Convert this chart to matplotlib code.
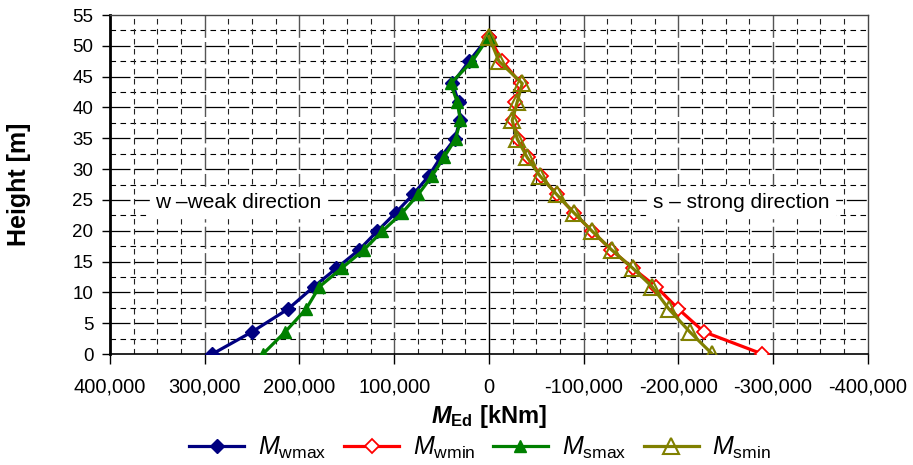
import matplotlib
matplotlib.use("Agg")
import matplotlib.pyplot as plt
from matplotlib.ticker import FuncFormatter, MultipleLocator

plt.rcParams['font.family'] = ['Liberation Sans', 'DejaVu Sans']
plt.rcParams['mathtext.fontset'] = 'custom'
plt.rcParams['mathtext.rm'] = 'Liberation Sans'
plt.rcParams['mathtext.it'] = 'Liberation Sans:italic'
plt.rcParams['mathtext.bf'] = 'Liberation Sans:bold:italic'
plt.rcParams['mathtext.sf'] = 'Liberation Sans:bold'

# heights of the calculation levels [m]
heights = [0, 3.6, 7.3, 10.9, 13.9, 16.9, 19.9, 22.9, 25.9, 28.9, 31.9,
           34.9, 37.9, 40.9, 43.9, 47.5, 51.5]

# bending moments [kNm]
m_wmax = [292000, 250000, 212000, 185000, 161000, 137000, 118000, 98500,
          80000, 63500, 51000, 36000, 30500, 32000, 38500, 21000, 0]
m_wmin = [-288700, -227000, -200000, -176700, -152000, -129300, -109000,
          -89700, -71500, -54600, -41500, -30900, -25700, -27500, -33500,
          -14100, 0]
m_smax = [238600, 215000, 193000, 179000, 155600, 132000, 112700, 91600,
          74500, 60000, 47500, 35200, 30000, 33500, 40400, 17600, 0]
m_smin = [-235800, -212000, -190000, -172400, -152000, -129500, -109100,
          -89800, -71500, -53900, -40400, -29900, -24600, -29900, -35200,
          -10600, 0]

fig = plt.figure(figsize=(9.13, 4.65), dpi=100)
ax = fig.add_axes([0.1205, 0.2387, 0.830, 0.729])

# grid: horizontal every 2.5 m, vertical every 25,000 kNm
for y in [i * 2.5 for i in range(1, 22)]:
    if y % 5 == 0:
        ax.axhline(y, color='black', lw=0.9, dashes=(16, 3), zorder=0)
    else:
        ax.axhline(y, color='black', lw=0.8, dashes=(5, 4), zorder=0)
for x in range(-375000, 400000, 25000):
    if x == 0:
        continue
    if x % 100000 == 0:
        ax.axvline(x, color='#555555', lw=1.0, dashes=(16, 3), zorder=0)
    else:
        ax.axvline(x, color='#222222', lw=0.8, dashes=(5, 4), zorder=0)
ax.axvline(0, color='black', lw=1.0, zorder=1)

ax.plot(m_wmax, heights, color='#000080', lw=2.3, marker='D', ms=7,
        mfc='#000080', mec='#000080', label=r'$M_{\mathrm{wmax}}$', zorder=3)
ax.plot(m_wmin, heights, color='#FF0000', lw=2.3, marker='D', ms=7,
        mfc='white', mec='#FF0000', mew=1.3, label=r'$M_{\mathrm{wmin}}$', zorder=3)
ax.plot(m_smax, heights, color='#008000', lw=2.3, marker='^', ms=9,
        mfc='#008000', mec='#008000', label=r'$M_{\mathrm{smax}}$', zorder=4)
ax.plot(m_smin, heights, color='#808000', lw=2.3, marker='^', ms=12,
        mfc='none', mec='#808000', mew=1.5, label=r'$M_{\mathrm{smin}}$', zorder=4)

ax.set_xlim(400000, -400000)
ax.set_ylim(0, 55)
ax.xaxis.set_major_locator(MultipleLocator(100000))
ax.yaxis.set_major_locator(MultipleLocator(5))
ax.xaxis.set_major_formatter(FuncFormatter(lambda v, p: f"{int(v):,}"))
ax.tick_params(axis='both', width=1, direction='out')
ax.tick_params(axis='x', labelsize=14.5, length=7, pad=10)
ax.tick_params(axis='y', labelsize=13.5, length=6, pad=6)

for side in ['top', 'right']:
    ax.spines[side].set_color('#444444')
    ax.spines[side].set_linewidth(1.0)
ax.spines['left'].set_linewidth(2.0)
ax.spines['bottom'].set_linewidth(1.2)

ax.set_ylabel('Height [m]', fontsize=18, fontweight='bold')
ax.yaxis.set_label_coords(-0.104, 0.5)
ax.set_xlabel(r'$\mathbf{M}_{\mathsf{Ed}}$ [kNm]', fontsize=17,
              fontweight='bold')
ax.xaxis.set_label_coords(0.5, -0.145)

ax.text(352000, 24.6, 'w \u2013weak direction', fontsize=15, va='center',
        backgroundcolor='white')
ax.text(-173000, 24.6, 's \u2013 strong direction', fontsize=15, va='center',
        backgroundcolor='white')

fig.legend(loc='center', bbox_to_anchor=(0.526, 0.037), ncol=4, frameon=False,
           fontsize=18, handlelength=2.2, columnspacing=0.7, handletextpad=0.55,
           borderpad=0.1)

fig.savefig('out.png', dpi=100)
